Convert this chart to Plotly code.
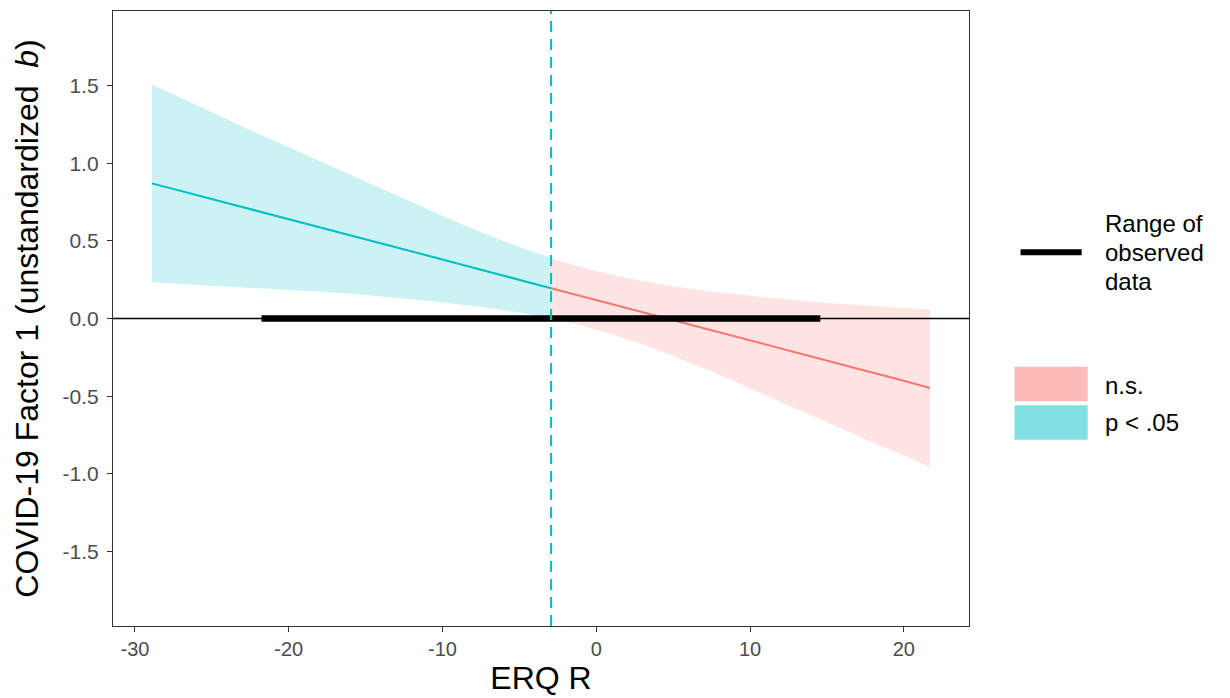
import plotly.graph_objects as go

# ---- data ----
sig_x = [-28.9, -27.5, -25, -22.5, -20, -17.5, -15, -12.5, -10, -7.5, -5, -2.94]
sig_est = [0.870, 0.834, 0.769, 0.704, 0.641, 0.576, 0.511, 0.445, 0.380, 0.314, 0.249, 0.195]
sig_upper = [1.507, 1.442, 1.327, 1.213, 1.103, 0.992, 0.882, 0.770, 0.662, 0.556, 0.460, 0.390]
sig_lower = [0.233, 0.225, 0.211, 0.198, 0.185, 0.170, 0.152, 0.130, 0.104, 0.074, 0.038, 0.000]

ns_x = [-2.94, -1, 1, 3, 5, 7.5, 10, 12.5, 15, 17.5, 20, 21.7]
ns_est = [0.195, 0.145, 0.093, 0.041, -0.011, -0.076, -0.141, -0.206, -0.271, -0.336, -0.401, -0.447]
ns_upper = [0.390, 0.332, 0.282, 0.242, 0.207, 0.174, 0.146, 0.122, 0.100, 0.083, 0.070, 0.058]
ns_lower = [0.000, -0.045, -0.100, -0.166, -0.240, -0.342, -0.450, -0.560, -0.668, -0.778, -0.885, -0.955]

jn_point = -2.94
obs_range = [-21.77, 14.57]

x_ticks = [-30, -20, -10, 0, 10, 20]
x_tick_text = ["-30", "-20", "-10", "0", "10", "20"]
y_ticks = [-1.5, -1.0, -0.5, 0.0, 0.5, 1.0, 1.5]
y_tick_text = ["-1.5", "-1.0", "-0.5", "0.0", "0.5", "1.0", "1.5"]

range_label_lines = ["Range of", "observed", "data"]
fill_labels = ["n.s.", "p &lt; .05"]

BLUE = "#00BFC4"
RED = "#F8766D"
FONT = "Liberation Sans, Arial"

fig = go.Figure()

# confidence bands
fig.add_trace(go.Scatter(x=sig_x + sig_x[::-1], y=sig_upper + sig_lower[::-1],
                         fill="toself", fillcolor="rgba(0,191,196,0.2)",
                         line=dict(width=0), mode="lines", hoverinfo="skip",
                         showlegend=False))
fig.add_trace(go.Scatter(x=ns_x + ns_x[::-1], y=ns_upper + ns_lower[::-1],
                         fill="toself", fillcolor="rgba(248,118,109,0.2)",
                         line=dict(width=0), mode="lines", hoverinfo="skip",
                         showlegend=False))
# slope lines
fig.add_trace(go.Scatter(x=sig_x, y=sig_est, mode="lines",
                         line=dict(color=BLUE, width=2), showlegend=False))
fig.add_trace(go.Scatter(x=ns_x, y=ns_est, mode="lines",
                         line=dict(color=RED, width=2), showlegend=False))

# zero reference line
fig.add_shape(type="line", xref="paper", x0=0, x1=1, yref="y", y0=0, y1=0,
              line=dict(color="black", width=1.6), layer="above")
# range of observed data
fig.add_trace(go.Scatter(x=obs_range, y=[0, 0], mode="lines",
                         line=dict(color="black", width=6.5), showlegend=False))
# Johnson-Neyman point
fig.add_shape(type="line", xref="x", x0=jn_point, x1=jn_point, yref="paper", y0=0, y1=1,
              line=dict(color=BLUE, width=2, dash="11px,7px"), layer="above")

# ---- custom legend (layout decoration), positions in page pixels ----
OFF = 8  # default page body margin
L, R, T, B = 113.5, 968.5, 10.7, 625.7


def px(xp):
    return (xp - L) / (R - L)


def py(yp):
    return (B - yp) / (B - T)


fig.add_shape(type="line", xref="paper", yref="paper", x0=px(1020), x1=px(1081),
              y0=py(252), y1=py(252), line=dict(color="black", width=6))
for txt, yp in zip(range_label_lines, [223, 252, 281]):
    fig.add_annotation(xref="paper", yref="paper", x=px(1102), y=py(yp), xanchor="left",
                       yanchor="middle", showarrow=False, align="left", text=txt,
                       font=dict(family=FONT, size=24, color="black"))
fig.add_shape(type="rect", xref="paper", yref="paper", x0=px(1014), x1=px(1087),
              y0=py(401), y1=py(366.5), fillcolor="#FCBAB6", line=dict(width=0))
fig.add_shape(type="rect", xref="paper", yref="paper", x0=px(1014), x1=px(1087),
              y0=py(439.5), y1=py(405), fillcolor="#80DFE2", line=dict(width=0))
for txt, yp in zip(fill_labels, [385, 422]):
    fig.add_annotation(xref="paper", yref="paper", x=px(1102), y=py(yp), xanchor="left",
                       yanchor="middle", showarrow=False, text=txt,
                       font=dict(family=FONT, size=24, color="black"))

fig.update_layout(
    width=1230 - OFF, height=698 - OFF,
    margin=dict(l=113 - OFF, r=1230 - 969, t=11 - OFF, b=698 - 626, autoexpand=False),
    paper_bgcolor="white", plot_bgcolor="white",
    font=dict(family=FONT, color="black"),
    showlegend=False,
    xaxis=dict(range=[-31.43, 24.24], tickvals=x_ticks, ticktext=x_tick_text,
               ticks="outside", ticklen=5,
               tickwidth=1.3, tickcolor="#333333", showgrid=False, zeroline=False,
               showline=True, linecolor="#333333", linewidth=1.3, mirror=True,
               tickfont=dict(size=20, color="#4D4D4D"),
               title=dict(text="ERQ R", font=dict(size=32, color="black"), standoff=6)),
    yaxis=dict(range=[-1.98, 1.98], tickvals=y_ticks, ticktext=y_tick_text,
               ticks="outside", ticklen=5, tickwidth=1.3, tickcolor="#333333",
               showgrid=False, zeroline=False, showline=True, linecolor="#333333",
               linewidth=1.3, mirror=True, ticklabelstandoff=4,
               tickfont=dict(size=21, color="#4D4D4D"),
               title=dict(text="COVID-19 Factor 1 (unstandardized  <i>b</i>)",
                          font=dict(size=32, color="black"), standoff=14)),
)

fig.write_html("out.html")
